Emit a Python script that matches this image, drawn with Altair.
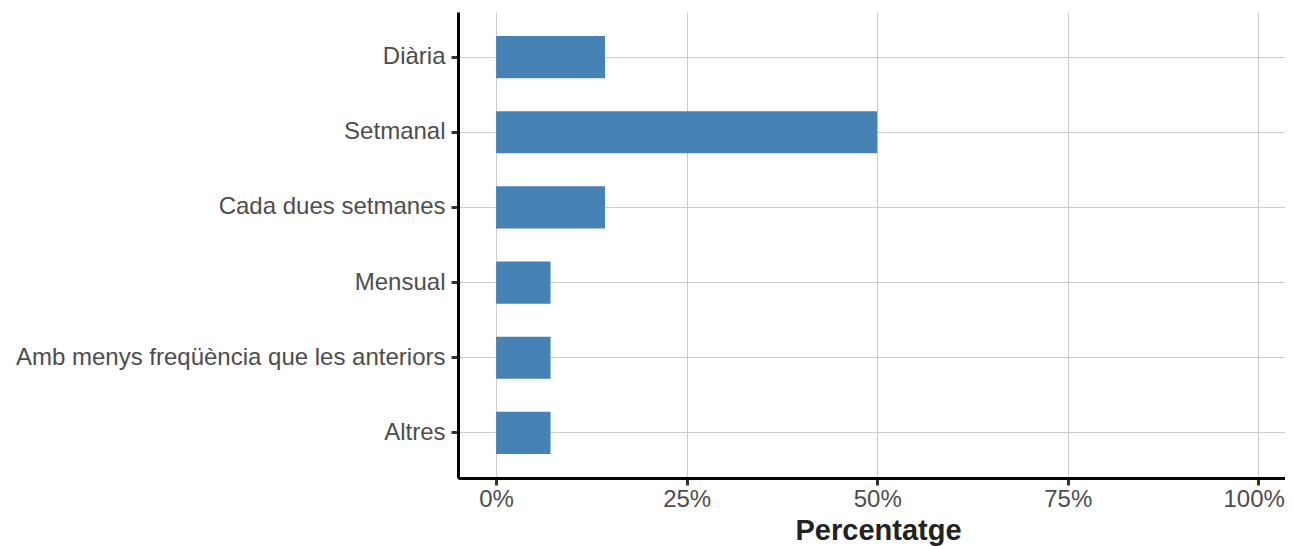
import altair as alt
import pandas as pd

categories = ["Diària", "Setmanal", "Cada dues setmanes", "Mensual",
              "Amb menys freqüència que les anteriors", "Altres"]
percentages = [14.29, 50.0, 14.29, 7.14, 7.14, 7.14]
tick_values = [0, 25, 50, 75, 100]

df = pd.DataFrame({"categoria": categories, "percentatge": percentages})

chart = alt.Chart(df).mark_bar(color="#4682B4").encode(
    y=alt.Y("categoria:N", sort=categories,
            scale=alt.Scale(paddingInner=0.44, paddingOuter=0.32),
            axis=alt.Axis(title=None, labelFontSize=24, labelColor="#4D4D4D",
                          labelFont="Liberation Sans", labelPadding=6,
                          labelLimit=0,
                          tickColor="#333333", tickWidth=3, tickSize=7,
                          domainColor="#000000", domainWidth=3,
                          grid=True, gridColor="#CCCCCC", gridWidth=1)),
    x=alt.X("percentatge:Q",
            scale=alt.Scale(domain=[-5, 103.5], nice=False, zero=False),
            axis=alt.Axis(title="Percentatge", values=tick_values,
                          labelExpr="datum.value + '%'",
                          labelFontSize=24, labelColor="#4D4D4D",
                          labelFont="Liberation Sans", labelPadding=2,
                          labelFlush=30, labelFlushOffset=26,
                          titleFontSize=29, titleFont="Liberation Sans",
                          titleFontWeight="bold", titleColor="#222222",
                          titlePadding=5, titleX=420,
                          tickColor="#333333", tickWidth=3, tickSize=7,
                          domainColor="#000000", domainWidth=3,
                          grid=True, gridColor="#CCCCCC", gridWidth=1)),
).properties(
    width=827, height=466,
    autosize=alt.AutoSizeParams(type="none"),
    padding={"left": 450, "top": 4, "right": 0, "bottom": 68},
).configure_view(stroke=None)

chart.save("out.html", embed_options={"renderer": "svg", "actions": False})
